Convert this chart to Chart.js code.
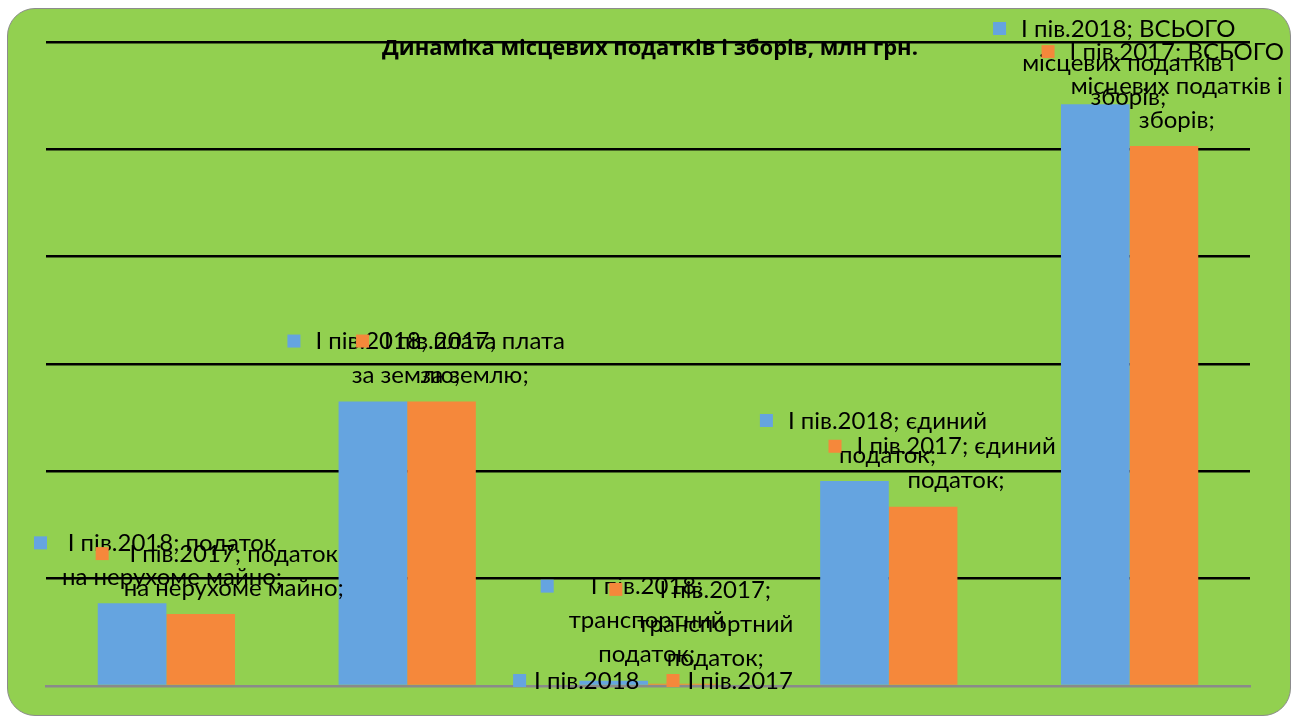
<!DOCTYPE html>
<html>
<head>
<meta charset="utf-8">
<script src="https://cdn.jsdelivr.net/npm/chart.js@4.4.1/dist/chart.umd.min.js"></script>
<style>
  html, body { margin: 0; padding: 0; background: #fff; }
  #panel {
    position: absolute; left: 7px; top: 8px; width: 1282px; height: 706px;
    background: #92d050; border: 1.5px solid #8c8c8c; border-radius: 28px;
  }
  #c { position: absolute; left: 0; top: 0; }
</style>
</head>
<body>
<div id="panel"></div>
<canvas id="c" width="1299" height="720"></canvas>
<script>
// дані з діаграми (млн грн, оцінка з картинки)
const categories = ['податок на нерухоме майно', 'плата за землю', 'транспортний податок', 'єдиний податок', 'ВСЬОГО місцевих податків і зборів'];
const seriesNames = ['І пів.2018', 'І пів.2017'];
const values2018 = [77, 265, 5, 191, 542];
const values2017 = [67, 265, 2, 167, 503];
const axisMax = 600;
const axisStep = 100;
const chartTitle = 'Динаміка місцевих податків і зборів, млн грн.';

const BLUE = '#65a4e0';
const ORANGE = '#f5883b';
const LABEL_FONT = '24px Lato';
const KEY = 13, GAP = 15, LINE = 34;
// ширина рамки підпису для кожної категорії (як переносить Excel)
const wrapWidths = [260, 224, 245, 268, 265];

function wrap(ctx, text, maxW, indent) {
    const words = text.split(' ');
    const lines = [];
    let cur = '';
    words.forEach(w => {
        const test = cur ? cur + ' ' + w : w;
        const limit = lines.length === 0 ? maxW - indent : maxW;
        if (cur && ctx.measureText(test).width > limit) { lines.push(cur); cur = w; }
        else cur = test;
    });
    lines.push(cur);
    return lines;
}

// підписи в стилі Excel: ключ легенди + "серія; категорія;"
const labelPlugin = {
    id: 'excelLabels',
    afterDatasetsDraw(chart) {
        const ctx = chart.ctx;
        ctx.save();
        ctx.font = LABEL_FONT;
        ctx.textBaseline = 'middle';
        ctx.textAlign = 'center';
        chart.data.datasets.forEach((ds, i) => {
            chart.getDatasetMeta(i).data.forEach((bar, j) => {
                const text = ds.label + '; ' + chart.data.labels[j] + ';';
                const lines = wrap(ctx, text, wrapWidths[j], KEY + GAP);
                const textW = Math.max(...lines.map(l => ctx.measureText(l).width));
                const boxW = KEY + GAP + textW;
                let left = bar.x + 19 - boxW / 2;
                // рамка не виходить за межі діаграми
                left = Math.max(34, Math.min(left, 1284 - boxW));
                const textCx = left + KEY + GAP + textW / 2;
                let y0 = bar.y - 26 - (lines.length - 1) * LINE;
                if (y0 < 29) y0 = 29;
                ctx.fillStyle = ds.backgroundColor;
                ctx.fillRect(left, y0 - 7, KEY, KEY);
                ctx.fillStyle = '#000';
                lines.forEach((l, k) => ctx.fillText(l, textCx, y0 + k * LINE));
            });
        });
        ctx.restore();
    },
    afterDraw(chart) {
        const ctx = chart.ctx;
        ctx.save();
        // заголовок
        ctx.font = 'bold 22px "Open Sans"';
        ctx.fillStyle = '#000';
        ctx.textAlign = 'center';
        ctx.textBaseline = 'middle';
        ctx.fillText(chartTitle, 650, 49);
        // легенда знизу
        ctx.font = LABEL_FONT;
        ctx.textAlign = 'left';
        const items = chart.data.datasets.map(d => ({ t: d.label, c: d.backgroundColor, w: ctx.measureText(d.label).width }));
        const total = items.reduce((s, it) => s + KEY + 8 + it.w, 0) + 27 * (items.length - 1);
        let x = 653 - total / 2;
        items.forEach(it => {
            ctx.fillStyle = it.c;
            ctx.fillRect(x, 674, KEY, KEY);
            ctx.fillStyle = '#000';
            ctx.fillText(it.t, x + KEY + 8, 681);
            x += KEY + 8 + it.w + 27;
        });
        ctx.restore();
    }
};

new Chart(document.getElementById('c'), {
    type: 'bar',
    data: {
        labels: categories,
        datasets: [
            { label: seriesNames[0], data: values2018, backgroundColor: BLUE },
            { label: seriesNames[1], data: values2017, backgroundColor: ORANGE }
        ]
    },
    options: {
        responsive: false,
        animation: false,
        events: [],
        layout: { padding: { left: 46, right: 49, top: 42, bottom: 34 } },
        datasets: { bar: { categoryPercentage: 0.57, barPercentage: 1 } },
        plugins: { legend: { display: false }, title: { display: false }, tooltip: { enabled: false } },
        scales: {
            x: {
                grid: { display: false, drawTicks: false },
                ticks: { display: false },
                border: { display: true, color: '#8a8a8a', width: 2.5 }
            },
            y: {
                min: 0, max: axisMax,
                ticks: { display: false, stepSize: axisStep },
                grid: { drawTicks: false, lineWidth: 2.5, color: c => c.tick.value === 0 ? 'rgba(0,0,0,0)' : '#000' },
                border: { display: false }
            }
        }
    },
    plugins: [labelPlugin]
});
</script>
</body>
</html>
